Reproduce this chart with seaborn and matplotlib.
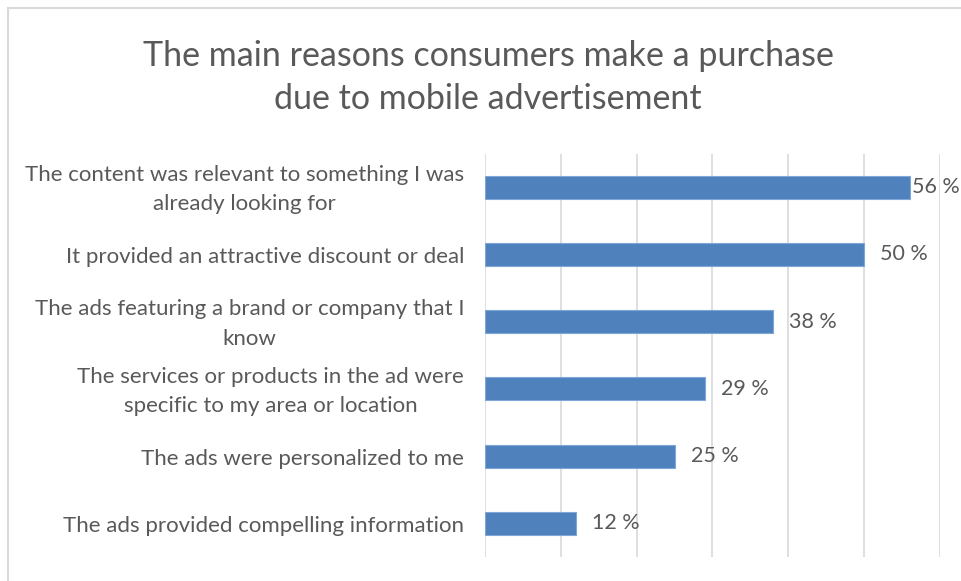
import matplotlib
matplotlib.use("Agg")
import matplotlib.pyplot as plt
import matplotlib.transforms as mtransforms
import seaborn as sns
import pandas as pd

# Survey answers and their share of respondents (%)
reasons = [
    "The content was relevant to something I was\nalready looking for",
    "It provided an attractive discount or deal",
    "The ads featuring a brand or company that I\nknow",
    "The services or products in the ad were\nspecific to my area or location",
    "The ads were personalized to me",
    "The ads provided compelling information",
]
shares = [56, 50, 38, 29, 25, 12]
x_ticks = [0, 10, 20, 30, 40, 50, 60]

title = "The main reasons consumers make a purchase\ndue to mobile advertisement"

sns.set_theme(style="white")
plt.rcParams["font.family"] = ["Lato", "DejaVu Sans"]

TEXT = "#595959"
BAR = "#4F81BD"

df = pd.DataFrame({"reason": reasons, "share": shares})

fig = plt.figure(figsize=(9.61, 5.81), dpi=100)
ax = fig.add_axes([0.5047, 0.0413, 0.978 - 0.5047, 0.7358 - 0.0413])

sns.barplot(data=df, x="share", y="reason", orient="h", color=BAR,
            width=0.345, edgecolor="#7FA6D6", linewidth=0.8, saturation=1,
            ax=ax, zorder=3)

ax.set_xlim(0, 60)
ax.set_xticks(x_ticks)
ax.set_xticklabels([])
ax.tick_params(axis="x", length=0)
ax.tick_params(axis="y", length=0, pad=15, labelsize=16, labelcolor=TEXT)
nudge = mtransforms.ScaledTranslation(0, -2.5 / 100, fig.dpi_scale_trans)
for lab in ax.get_yticklabels():
    lab.set_multialignment("center")
    lab.set_linespacing(1.6)
    lab.set_verticalalignment("center")
    lab.set_transform(lab.get_transform() + nudge)
ax.grid(axis="x", color="#D9D9D9", linewidth=1.2, zorder=0)
ax.set_xlabel("")
ax.set_ylabel("")
for s in ax.spines.values():
    s.set_visible(False)

# value labels sit just past each bar; the longest one is tucked in closer
for bar, v in zip(ax.patches, shares):
    end = bar.get_x() + bar.get_width()
    yc = bar.get_y() + bar.get_height() / 2
    off = 2 if v == max(shares) else 11.5
    ax.annotate(f"{v} %", (end, yc), xytext=(off, 0), textcoords="offset points",
                ha="left", va="center", fontsize=15.5, color=TEXT,
                annotation_clip=False)

fig.text(0.508, 0.8666, title, ha="center", va="center", fontsize=24.5,
         color=TEXT, linespacing=1.4)

# light frame around the chart area
frame = plt.Rectangle((8 / 961, -0.1), 1.2, 1.1 - 8 / 581, transform=fig.transFigure,
                      fill=False, edgecolor="#D9D9D9", linewidth=1.5)
fig.patches.append(frame)

fig.savefig("out.png", dpi=100, facecolor="white")
